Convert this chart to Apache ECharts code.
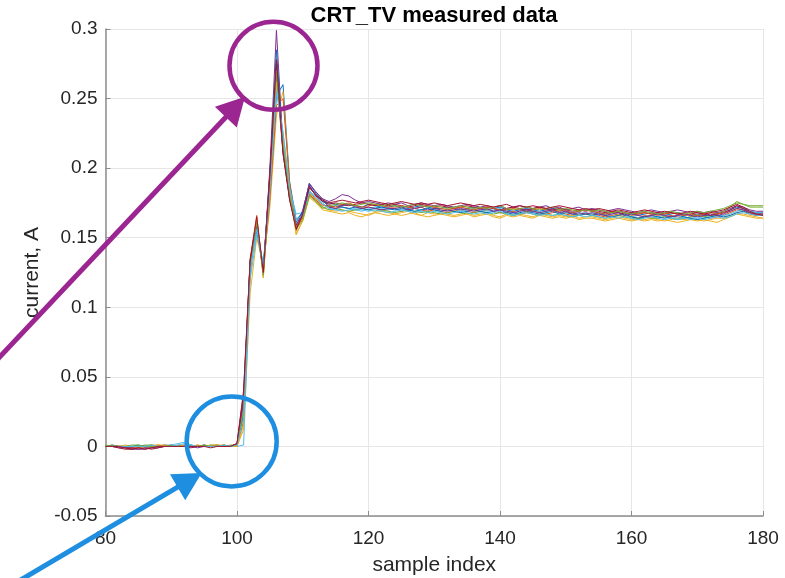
<!DOCTYPE html>
<html>
<head>
<meta charset="utf-8">
<title>CRT_TV measured data</title>
<script src="https://cdn.jsdelivr.net/npm/echarts@6.0.0/dist/echarts.min.js"></script>
<style>
  html, body { margin: 0; padding: 0; background: #ffffff; }
  #chart { width: 785px; height: 578px; }
</style>
</head>
<body>
<div id="chart"></div>
<script>
// Sample index of the first value in every trace
const firstSample = 80;

// Current traces (A), one value per sample, samples 80..180
const trace01 = [
  0.000,0.001,0.000,0.000,-0.001,0.000,0.000,0.001,0.000,0.000,0.001,0.000,0.000,0.001,0.000,0.000,0.000,0.001,0.000,0.000,
  0.001,0.025,0.130,0.155,0.128,0.185,0.252,0.260,0.190,0.163,0.168,0.186,0.181,0.176,
  0.175,0.174,0.173,0.174,0.173,0.172,0.174,0.173,0.172,0.172,
  0.173,0.172,0.171,0.172,0.173,0.172,0.171,0.171,0.172,0.171,
  0.170,0.171,0.172,0.171,0.170,0.171,0.172,0.170,0.169,0.170,
  0.171,0.170,0.169,0.170,0.171,0.170,0.169,0.168,0.169,0.170,
  0.169,0.168,0.167,0.168,0.169,0.168,0.167,0.166,0.167,0.168,
  0.167,0.166,0.167,0.168,0.167,0.166,0.167,0.166,0.166,0.167,
  0.168,0.170,0.172,0.171,0.169,0.168,0.168
];
const trace02 = [
  0.000,0.000,0.000,-0.001,-0.001,0.000,0.000,0.000,0.001,0.000,0.000,0.000,0.001,0.000,0.000,0.001,0.000,0.000,0.001,0.000,
  0.000,0.030,0.135,0.166,0.122,0.190,0.265,0.212,0.180,0.155,0.166,0.183,0.178,0.174,
  0.172,0.171,0.172,0.171,0.170,0.171,0.172,0.171,0.170,0.170,
  0.171,0.169,0.170,0.171,0.170,0.169,0.170,0.169,0.168,0.169,
  0.170,0.169,0.168,0.169,0.170,0.169,0.168,0.168,0.169,0.167,
  0.168,0.169,0.168,0.167,0.168,0.169,0.167,0.166,0.167,0.168,
  0.167,0.166,0.165,0.166,0.167,0.166,0.165,0.164,0.166,0.165,
  0.164,0.165,0.166,0.165,0.164,0.165,0.166,0.165,0.164,0.165,
  0.166,0.168,0.170,0.169,0.167,0.166,0.166
];
const trace03 = [
  0.001,0.000,0.000,0.000,0.000,-0.001,0.000,0.001,0.001,0.000,0.000,0.001,0.000,0.000,0.000,0.001,0.000,0.001,0.001,0.000,
  0.000,0.012,0.110,0.150,0.130,0.172,0.238,0.255,0.188,0.152,0.163,0.180,0.178,0.172,
  0.170,0.169,0.170,0.169,0.168,0.167,0.166,0.168,0.169,0.168,
  0.167,0.168,0.169,0.167,0.166,0.168,0.167,0.168,0.167,0.166,
  0.167,0.168,0.166,0.167,0.168,0.166,0.165,0.167,0.166,0.167,
  0.166,0.165,0.167,0.166,0.165,0.166,0.165,0.166,0.164,0.165,
  0.165,0.164,0.163,0.164,0.165,0.164,0.163,0.164,0.163,0.164,
  0.163,0.162,0.163,0.164,0.163,0.164,0.163,0.162,0.163,0.164,
  0.164,0.166,0.168,0.167,0.166,0.165,0.164
];
const trace04 = [
  0.000,0.000,-0.001,-0.001,-0.002,-0.002,-0.002,-0.001,-0.001,0.000,0.000,0.000,0.000,0.000,0.000,0.000,0.000,0.000,0.000,0.000,
  0.002,0.035,0.133,0.160,0.125,0.200,0.299,0.215,0.178,0.157,0.170,0.188,0.180,0.178,
  0.176,0.178,0.181,0.180,0.177,0.175,0.176,0.175,0.174,0.175,
  0.174,0.175,0.173,0.174,0.175,0.174,0.173,0.174,0.173,0.172,
  0.173,0.174,0.173,0.172,0.173,0.172,0.173,0.171,0.172,0.173,
  0.172,0.171,0.172,0.173,0.171,0.172,0.170,0.171,0.172,0.170,
  0.171,0.170,0.169,0.170,0.171,0.170,0.169,0.168,0.169,0.170,
  0.169,0.168,0.169,0.170,0.169,0.168,0.169,0.168,0.169,0.168,
  0.169,0.171,0.173,0.172,0.170,0.169,0.169
];
const trace05 = [
  0.000,0.001,0.000,0.000,0.000,0.000,0.001,0.001,0.000,0.000,0.000,0.000,0.001,0.000,0.000,0.000,0.001,0.001,0.000,0.001,
  0.001,0.028,0.128,0.158,0.126,0.195,0.268,0.218,0.182,0.160,0.165,0.182,0.176,0.172,
  0.170,0.171,0.170,0.169,0.170,0.171,0.170,0.169,0.170,0.169,
  0.168,0.169,0.170,0.169,0.168,0.169,0.168,0.167,0.168,0.169,
  0.168,0.167,0.168,0.169,0.168,0.167,0.168,0.167,0.166,0.167,
  0.168,0.167,0.166,0.167,0.166,0.167,0.166,0.165,0.166,0.167,
  0.166,0.165,0.164,0.165,0.166,0.165,0.164,0.163,0.165,0.164,
  0.164,0.165,0.164,0.163,0.164,0.165,0.166,0.165,0.166,0.167,
  0.169,0.172,0.176,0.174,0.172,0.172,0.172
];
const trace06 = [
  0.000,0.000,0.000,0.000,0.000,0.000,0.000,0.000,0.000,0.001,0.001,0.002,0.003,0.001,0.000,0.000,0.000,0.000,0.000,0.000,
  0.000,0.001,0.120,0.152,0.132,0.182,0.258,0.225,0.185,0.167,0.168,0.184,0.179,0.175,
  0.171,0.170,0.172,0.171,0.170,0.169,0.171,0.172,0.171,0.170,
  0.171,0.170,0.169,0.171,0.170,0.171,0.170,0.169,0.170,0.171,
  0.169,0.170,0.171,0.170,0.169,0.170,0.171,0.169,0.168,0.169,
  0.170,0.169,0.168,0.169,0.170,0.168,0.169,0.168,0.167,0.168,
  0.167,0.168,0.166,0.167,0.168,0.166,0.165,0.166,0.165,0.166,
  0.165,0.166,0.165,0.164,0.165,0.164,0.165,0.164,0.165,0.166,
  0.166,0.167,0.169,0.170,0.169,0.168,0.168
];
const trace07 = [
  0.000,0.000,-0.001,-0.002,-0.002,-0.001,-0.001,-0.002,-0.001,0.000,0.000,0.000,0.000,-0.001,0.000,0.000,0.000,0.000,0.000,0.000,
  0.002,0.040,0.134,0.163,0.124,0.198,0.275,0.213,0.179,0.156,0.167,0.187,0.180,0.176,
  0.174,0.175,0.174,0.173,0.174,0.175,0.174,0.173,0.174,0.173,
  0.174,0.173,0.172,0.173,0.174,0.173,0.172,0.173,0.172,0.171,
  0.172,0.173,0.172,0.171,0.172,0.171,0.170,0.171,0.172,0.171,
  0.170,0.171,0.172,0.171,0.170,0.171,0.170,0.169,0.170,0.169,
  0.170,0.169,0.168,0.169,0.168,0.167,0.168,0.167,0.168,0.167,
  0.168,0.167,0.168,0.167,0.166,0.167,0.168,0.167,0.166,0.167,
  0.168,0.170,0.173,0.171,0.168,0.166,0.166
];
const trace08 = [
  0.000,0.000,0.000,0.000,0.000,0.001,0.000,0.000,0.000,0.000,0.000,0.000,0.000,0.000,0.000,0.001,0.000,0.000,0.000,0.000,
  0.001,0.022,0.131,0.157,0.129,0.192,0.285,0.216,0.183,0.161,0.169,0.189,0.182,0.177,
  0.172,0.173,0.172,0.171,0.172,0.171,0.170,0.171,0.172,0.171,
  0.170,0.171,0.170,0.169,0.170,0.171,0.170,0.169,0.170,0.169,
  0.168,0.169,0.170,0.169,0.168,0.169,0.170,0.168,0.167,0.168,
  0.169,0.168,0.167,0.168,0.169,0.167,0.168,0.167,0.166,0.167,
  0.166,0.167,0.166,0.165,0.166,0.167,0.165,0.164,0.165,0.166,
  0.165,0.164,0.165,0.166,0.165,0.164,0.163,0.164,0.165,0.166,
  0.165,0.166,0.168,0.169,0.168,0.167,0.167
];
const trace09 = [
  0.000,0.000,0.000,0.000,-0.001,0.000,0.000,0.000,0.000,0.001,0.000,0.000,0.000,0.000,0.001,0.000,0.000,0.000,0.000,0.000,
  0.000,0.018,0.125,0.162,0.127,0.178,0.245,0.250,0.190,0.158,0.164,0.181,0.177,0.173,
  0.173,0.172,0.174,0.175,0.173,0.172,0.173,0.174,0.173,0.172,
  0.172,0.173,0.172,0.171,0.172,0.173,0.172,0.171,0.170,0.171,
  0.172,0.171,0.170,0.171,0.172,0.171,0.170,0.170,0.171,0.170,
  0.169,0.170,0.171,0.170,0.169,0.170,0.169,0.168,0.169,0.170,
  0.169,0.168,0.167,0.168,0.169,0.168,0.166,0.167,0.168,0.167,
  0.166,0.167,0.168,0.167,0.166,0.167,0.166,0.167,0.168,0.167,
  0.168,0.169,0.171,0.170,0.168,0.167,0.167
];
const trace10 = [
  0.000,0.000,0.000,0.001,0.000,0.000,-0.001,0.000,0.001,0.001,0.000,0.000,0.001,0.000,0.001,0.000,0.001,0.001,0.000,0.000,
  0.000,0.015,0.127,0.164,0.121,0.188,0.262,0.220,0.184,0.153,0.162,0.179,0.175,0.170,
  0.169,0.168,0.167,0.168,0.166,0.165,0.167,0.168,0.167,0.166,
  0.167,0.166,0.167,0.168,0.166,0.165,0.166,0.167,0.166,0.165,
  0.166,0.167,0.165,0.166,0.167,0.165,0.164,0.166,0.165,0.166,
  0.165,0.164,0.166,0.165,0.164,0.165,0.164,0.165,0.163,0.164,
  0.164,0.163,0.162,0.163,0.164,0.163,0.162,0.163,0.162,0.163,
  0.162,0.163,0.162,0.161,0.162,0.163,0.162,0.163,0.162,0.161,
  0.163,0.165,0.167,0.166,0.165,0.164,0.164
];
const trace11 = [
  0.000,0.000,0.000,-0.001,-0.001,-0.002,-0.001,-0.001,0.000,0.000,0.000,0.000,0.000,0.000,-0.001,0.000,0.000,0.000,0.000,0.000,
  0.002,0.032,0.132,0.159,0.126,0.196,0.272,0.210,0.178,0.159,0.168,0.189,0.183,0.178,
  0.172,0.171,0.173,0.174,0.172,0.171,0.172,0.171,0.170,0.171,
  0.171,0.172,0.170,0.171,0.172,0.170,0.171,0.170,0.169,0.170,
  0.171,0.170,0.169,0.170,0.171,0.169,0.170,0.169,0.168,0.169,
  0.170,0.169,0.168,0.169,0.170,0.168,0.169,0.167,0.168,0.167,
  0.168,0.167,0.166,0.167,0.168,0.166,0.167,0.166,0.165,0.166,
  0.167,0.166,0.165,0.166,0.167,0.166,0.165,0.166,0.167,0.166,
  0.167,0.169,0.171,0.170,0.168,0.167,0.167
];
const trace12 = [
  0.001,0.000,0.000,0.000,0.001,0.001,0.000,0.000,0.000,0.000,0.001,0.000,0.000,0.000,0.000,0.001,0.000,0.000,0.001,0.000,
  0.001,0.026,0.129,0.161,0.123,0.186,0.270,0.217,0.181,0.156,0.163,0.180,0.176,0.171,
  0.173,0.174,0.175,0.174,0.173,0.174,0.175,0.174,0.173,0.174,
  0.173,0.172,0.173,0.174,0.173,0.172,0.173,0.172,0.171,0.172,
  0.173,0.172,0.171,0.172,0.171,0.172,0.173,0.171,0.170,0.171,
  0.172,0.171,0.170,0.171,0.172,0.170,0.171,0.170,0.169,0.170,
  0.169,0.170,0.169,0.168,0.169,0.168,0.167,0.168,0.169,0.168,
  0.167,0.168,0.169,0.168,0.167,0.168,0.169,0.168,0.169,0.170,
  0.171,0.173,0.175,0.174,0.173,0.173,0.173
];
const trace13 = [
  0.000,0.000,0.000,0.000,0.000,0.000,0.000,0.001,0.000,0.000,0.000,0.001,0.002,0.001,0.000,0.000,0.000,0.000,0.001,0.000,
  0.001,0.020,0.126,0.156,0.130,0.184,0.255,0.226,0.186,0.163,0.166,0.183,0.179,0.174,
  0.171,0.170,0.169,0.170,0.171,0.170,0.169,0.170,0.169,0.168,
  0.169,0.170,0.169,0.168,0.169,0.168,0.169,0.168,0.167,0.168,
  0.169,0.168,0.167,0.168,0.167,0.168,0.169,0.167,0.166,0.167,
  0.168,0.167,0.166,0.167,0.166,0.167,0.166,0.165,0.166,0.165,
  0.166,0.165,0.164,0.165,0.164,0.165,0.164,0.163,0.164,0.165,
  0.164,0.163,0.164,0.163,0.164,0.163,0.164,0.163,0.164,0.165,
  0.164,0.165,0.167,0.168,0.167,0.166,0.166
];
const trace14 = [
  0.000,0.000,0.000,-0.001,-0.002,-0.001,-0.002,-0.001,0.000,0.000,0.000,0.000,0.000,0.000,0.000,0.000,-0.001,0.000,0.000,0.000,
  0.002,0.038,0.133,0.165,0.125,0.194,0.278,0.211,0.177,0.156,0.167,0.186,0.181,0.177,
  0.175,0.176,0.177,0.176,0.175,0.176,0.177,0.176,0.175,0.174,
  0.175,0.176,0.175,0.174,0.175,0.174,0.175,0.174,0.173,0.174,
  0.175,0.174,0.173,0.174,0.173,0.172,0.173,0.174,0.172,0.173,
  0.172,0.173,0.172,0.171,0.172,0.173,0.172,0.171,0.170,0.171,
  0.170,0.171,0.170,0.169,0.170,0.169,0.168,0.169,0.170,0.169,
  0.168,0.169,0.168,0.167,0.168,0.169,0.168,0.167,0.168,0.169,
  0.170,0.172,0.174,0.172,0.169,0.167,0.166
];

const traces = [trace01, trace02, trace03, trace04, trace05, trace06, trace07,
                trace08, trace09, trace10, trace11, trace12, trace13, trace14];

// Default MATLAB line colour order
const lineColors = ['#0072BD', '#D95319', '#EDB120', '#7E2F8E', '#77AC30', '#4DBEEE', '#A2142F'];

// Axis ranges and tick steps
const xRange = [80, 180], xStep = 20;
const yRange = [-0.05, 0.3], yStep = 0.05;

// Highlight callouts, anchored in data units (sample index, A)
const peakCallout  = { center: [105.55, 0.2736], radius: 44, tail: [63.95, 0.0645], tip: [101.22, 0.2513], color: '#9B2591' };
const onsetCallout = { center: [99.19, 0.0036],  radius: 45, tail: [67.76, -0.0941], tip: [94.63, -0.0191], color: '#1E8EE0' };

const textFont = '"Liberation Sans", Arial, Helvetica, sans-serif';
const inkColor = '#262626';
const axisGray = '#8c8c8c';

const chart = echarts.init(document.getElementById('chart'), null, { renderer: 'canvas' });

const series = traces.map((values, k) => ({
  type: 'line',
  name: 'run ' + (k + 1),
  data: values.map((v, i) => [firstSample + i, v]),
  showSymbol: false,
  symbol: 'none',
  lineStyle: { width: 1, color: lineColors[k % lineColors.length] },
  itemStyle: { color: lineColors[k % lineColors.length] },
  emphasis: { disabled: true },
  silent: true,
  z: 2
}));

chart.setOption({
  animation: false,
  backgroundColor: '#ffffff',
  title: {
    text: 'CRT_TV measured data',
    left: 434,
    textAlign: 'center',
    top: 0,
    padding: [5, 0, 0, 0],
    textStyle: { fontFamily: textFont, fontWeight: 'bold', fontSize: 22, color: '#000000' }
  },
  grid: { left: 105.5, right: 22, top: 29, bottom: 62, containLabel: false, outerBoundsMode: 'none' },
  xAxis: {
    type: 'value',
    min: xRange[0], max: xRange[1], interval: xStep,
    name: 'sample index',
    nameLocation: 'middle',
    nameGap: 39,
    nameTextStyle: { fontFamily: textFont, fontSize: 21, color: inkColor },
    axisLine: { show: true, onZero: false, lineStyle: { color: axisGray, width: 1.5 } },
    axisTick: { show: true, inside: true, length: 5, lineStyle: { color: axisGray, width: 1 } },
    axisLabel: { fontFamily: textFont, fontSize: 19, color: inkColor, margin: 13 },
    splitLine: { show: true, lineStyle: { color: '#e6e6e6', width: 1 } }
  },
  yAxis: {
    type: 'value',
    min: yRange[0], max: yRange[1], interval: yStep,
    name: 'current, A',
    nameLocation: 'middle',
    nameGap: 63,
    nameTextStyle: { fontFamily: textFont, fontSize: 21, color: inkColor },
    axisLine: { show: true, onZero: false, lineStyle: { color: axisGray, width: 1.5 } },
    axisTick: { show: true, inside: true, length: 5, lineStyle: { color: axisGray, width: 1 } },
    axisLabel: {
      fontFamily: textFont, fontSize: 19, color: inkColor, margin: 8,
      formatter: v => String(+v.toFixed(2))
    },
    splitLine: { show: true, lineStyle: { color: '#e6e6e6', width: 1 } }
  },
  series: series
});

// Callout drawing: ring around a feature plus a thick arrow pointing at it
function toPx(p) { return chart.convertToPixel({ gridIndex: 0 }, p); }

function calloutGraphics(c) {
  const ctr = toPx(c.center);
  const tail = toPx(c.tail);
  const tip = toPx(c.tip);
  const dx = tip[0] - tail[0], dy = tip[1] - tail[1];
  const len = Math.hypot(dx, dy);
  const ux = dx / len, uy = dy / len;
  const nx = -uy, ny = ux;
  const headLen = 28, headWidth = 30, overshoot = 60;
  const base = [tip[0] - ux * headLen, tip[1] - uy * headLen];
  return [
    {
      type: 'circle', z: 100,
      shape: { cx: ctr[0], cy: ctr[1], r: c.radius },
      style: { fill: 'none', stroke: c.color, lineWidth: 4.5 }
    },
    {
      type: 'line', z: 100,
      shape: { x1: tail[0] - ux * overshoot, y1: tail[1] - uy * overshoot, x2: base[0] + ux * 4, y2: base[1] + uy * 4 },
      style: { stroke: c.color, lineWidth: 5 }
    },
    {
      type: 'polygon', z: 100,
      shape: { points: [
        [tip[0], tip[1]],
        [base[0] + nx * headWidth / 2, base[1] + ny * headWidth / 2],
        [base[0] - nx * headWidth / 2, base[1] - ny * headWidth / 2]
      ] },
      style: { fill: c.color }
    }
  ];
}

chart.setOption({
  graphic: { elements: calloutGraphics(peakCallout).concat(calloutGraphics(onsetCallout)) }
});
</script>
</body>
</html>
